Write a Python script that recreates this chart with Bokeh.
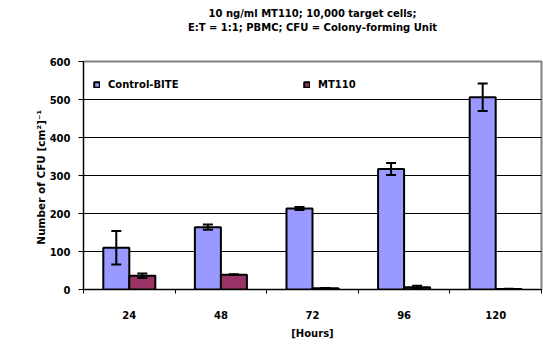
from bokeh.plotting import figure
from bokeh.models import (ColumnDataSource, Range1d, FixedTicker, SingleIntervalTicker,
                          Whisker, TeeHead, Legend, LegendItem, Title)
from bokeh.embed import file_html
from bokeh.resources import INLINE

# ---- data ----
hours = ["24", "48", "72", "96", "120"]
control = [110, 164, 213, 317, 506]
control_err = [44, 7, 4, 16, 36]
mt110 = [36, 39, 3, 6, 1]
mt110_err = [6, 1, 1, 4, 1]
series_names = ["Control-BITE", "MT110"]
title_lines = ["10 ng/ml MT110; 10,000 target cells;",
               "E:T = 1:1; PBMC; CFU = Colony-forming Unit"]
y_label = "Number of CFU  [cm\u00b2]\u207b\u00b9"
x_label = "[Hours]"

FONT = "DejaVu Sans"
TXT = "black"
OFF = 0.142
BW = 0.284

n = len(hours)
centers = [i + 0.5 for i in range(n)]
src = ColumnDataSource(dict(
    xc=[c - OFF for c in centers],
    xm=[c + OFF for c in centers],
    c=control, m=mt110,
    c_up=[v + e for v, e in zip(control, control_err)],
    c_lo=[v - e for v, e in zip(control, control_err)],
    m_up=[v + e for v, e in zip(mt110, mt110_err)],
    m_lo=[max(v - e, 0) for v, e in zip(mt110, mt110_err)],
))

p = figure(width=543, height=344, x_range=Range1d(0, n), y_range=Range1d(0, 600),
           output_backend="svg", toolbar_location=None,
           min_border_left=83, min_border_right=2, min_border_top=61, min_border_bottom=55)
p.background_fill_color = "white"
p.border_fill_color = "white"
p.outline_line_color = "#808080"
p.outline_line_width = 2

xa = p.xaxis[0]
ya = p.yaxis[0]

# blank spacer title between the two title lines and the plot area
spacer = Title(text=" ", text_font=FONT, text_font_size="10px", standoff=15)
p.add_layout(spacer, "above")

t2 = Title(text=title_lines[1], align="center", text_font=FONT, text_font_size="10px",
           text_font_style="bold", text_color=TXT, standoff=2)
p.add_layout(t2, "above")

p.title.text = title_lines[0]
p.title.align = "center"
p.title.text_font = FONT
p.title.text_font_size = "10px"
p.title.text_font_style = "bold"
p.title.text_color = TXT
p.title.standoff = 0

r1 = p.vbar(x="xc", top="c", width=BW, source=src, fill_color="#9999FF",
            line_color="black", line_width=2)
r2 = p.vbar(x="xm", top="m", width=BW, source=src, fill_color="#993366",
            line_color="black", line_width=2)

for base, up, lo in (("xc", "c_up", "c_lo"), ("xm", "m_up", "m_lo")):
    w = Whisker(base=base, upper=up, lower=lo, source=src, dimension="height",
                line_color="black", line_width=2, level="overlay",
                upper_head=TeeHead(size=10, line_color="black", line_width=2),
                lower_head=TeeHead(size=10, line_color="black", line_width=2))
    p.add_layout(w)

# axes
xa.ticker = FixedTicker(ticks=centers, minor_ticks=list(range(n + 1)))
xa.major_label_overrides = {c: h for c, h in zip(centers, hours)}
xa.major_tick_line_color = None
xa.major_tick_out = 0
xa.major_tick_in = 0
xa.minor_tick_out = 4
xa.minor_tick_in = 0
xa.minor_tick_line_color = "black"
xa.axis_line_color = "black"
xa.major_label_standoff = 17
xa.major_label_text_font = FONT
xa.major_label_text_font_size = "10px"
xa.major_label_text_font_style = "bold"
xa.major_label_text_color = TXT
xa.axis_label = x_label
xa.axis_label_text_font = FONT
xa.axis_label_text_font_size = "10px"
xa.axis_label_text_font_style = "bold"
xa.axis_label_text_color = TXT
xa.axis_label_standoff = 6

ya.ticker = SingleIntervalTicker(interval=100, num_minor_ticks=0)
ya.major_tick_out = 5
ya.major_tick_in = 0
ya.minor_tick_out = 0
ya.minor_tick_in = 0
ya.axis_line_color = "black"
ya.major_tick_line_color = "black"
ya.major_label_standoff = 8
ya.major_label_text_font = FONT
ya.major_label_text_font_size = "10px"
ya.major_label_text_font_style = "bold"
ya.major_label_text_color = TXT
ya.axis_label = y_label
ya.axis_label_text_font = FONT
ya.axis_label_text_font_size = "10.5px"
ya.axis_label_text_font_style = "bold"
ya.axis_label_text_color = TXT
ya.axis_label_standoff = 0

p.xgrid.visible = False
p.ygrid.grid_line_color = "black"
p.ygrid.grid_line_width = 1

legend = Legend(items=[LegendItem(label=series_names[0], renderers=[r1]),
                       LegendItem(label=series_names[1], renderers=[r2])],
                orientation="horizontal", location=(10, 199),
                border_line_color=None, background_fill_alpha=0,
                padding=0, margin=0, glyph_width=7, glyph_height=7,
                label_standoff=8, label_width=80, spacing=115,
                label_text_font=FONT, label_text_font_size="10px",
                label_text_font_style="bold", label_text_color=TXT)
p.add_layout(legend)

open("out.html", "w").write(file_html(p, INLINE))
